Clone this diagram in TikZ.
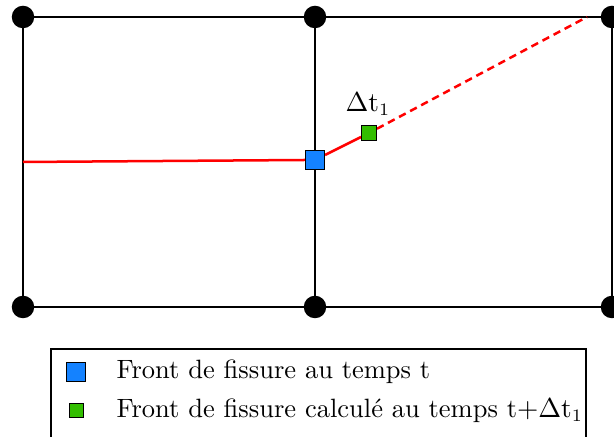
\documentclass[tikz,border=0pt]{standalone}
\begin{document}
\begin{tikzpicture}[x=0.4pt,y=-0.4pt,
  dot/.style={circle,fill=black,inner sep=0pt,minimum size=9pt},
  edge/.style={line width=0.8pt,black},
  crack/.style={line width=1pt,red},
  bluesq/.style={draw=black,fill={rgb,255:red,20;green,130;blue,255},inner sep=0pt,minimum size=7.6pt,line width=0.4pt},
  greensq/.style={draw=black,fill={rgb,255:red,50;green,190;blue,0},inner sep=0pt,minimum size=6pt,line width=0.4pt},
  lbl/.style={font=\fontsize{10.6}{12.7}\selectfont,inner sep=0pt}]
\useasboundingbox (0,0) rectangle (614,437);
\coordinate (tl) at (23,17);
\coordinate (tm) at (315,17);
\coordinate (tr) at (612,17);
\coordinate (bl) at (23,307);
\coordinate (bm) at (315,307);
\coordinate (br) at (612,307);
\draw[edge] (tl) -- (tr) -- (br) -- (bl) -- cycle;
\draw[edge] (tm) -- (bm);
\coordinate (cl) at (23,162);
\node[bluesq] (b) at (315,160) {};
\node[greensq] (g) at (369,133) {};
\coordinate (cend) at (587,17);
\draw[crack] (cl) -- (b.west);
\draw[crack] (b) -- (g);
\draw[crack,dashed,dash pattern=on 3pt off 2pt] (g) -- (cend);
\node[bluesq] at (315,160) {};
\node[greensq] at (369,133) {};
\node[lbl] (dl) at (368,104) {$\Delta\mathrm{t}_1$};
\foreach \n in {tl,tm,tr,bl,bm,br} \node[dot] at (\n) {};
\draw[line width=0.6pt] (51,450) -- (51,349) -- (586,349) -- (586,450);
\node[bluesq] (lb) at (76,372) {};
\node[greensq,minimum size=5.6pt] (lg) at (76,411) {};
\node[lbl,anchor=west] (t1) at (116,372) {Front de fissure au temps t};
\node[lbl,anchor=west] (t2) at (116,411) {Front de fissure calcul\'e au temps t$+\Delta\mathrm{t}_1$};
\end{tikzpicture}
\end{document}
